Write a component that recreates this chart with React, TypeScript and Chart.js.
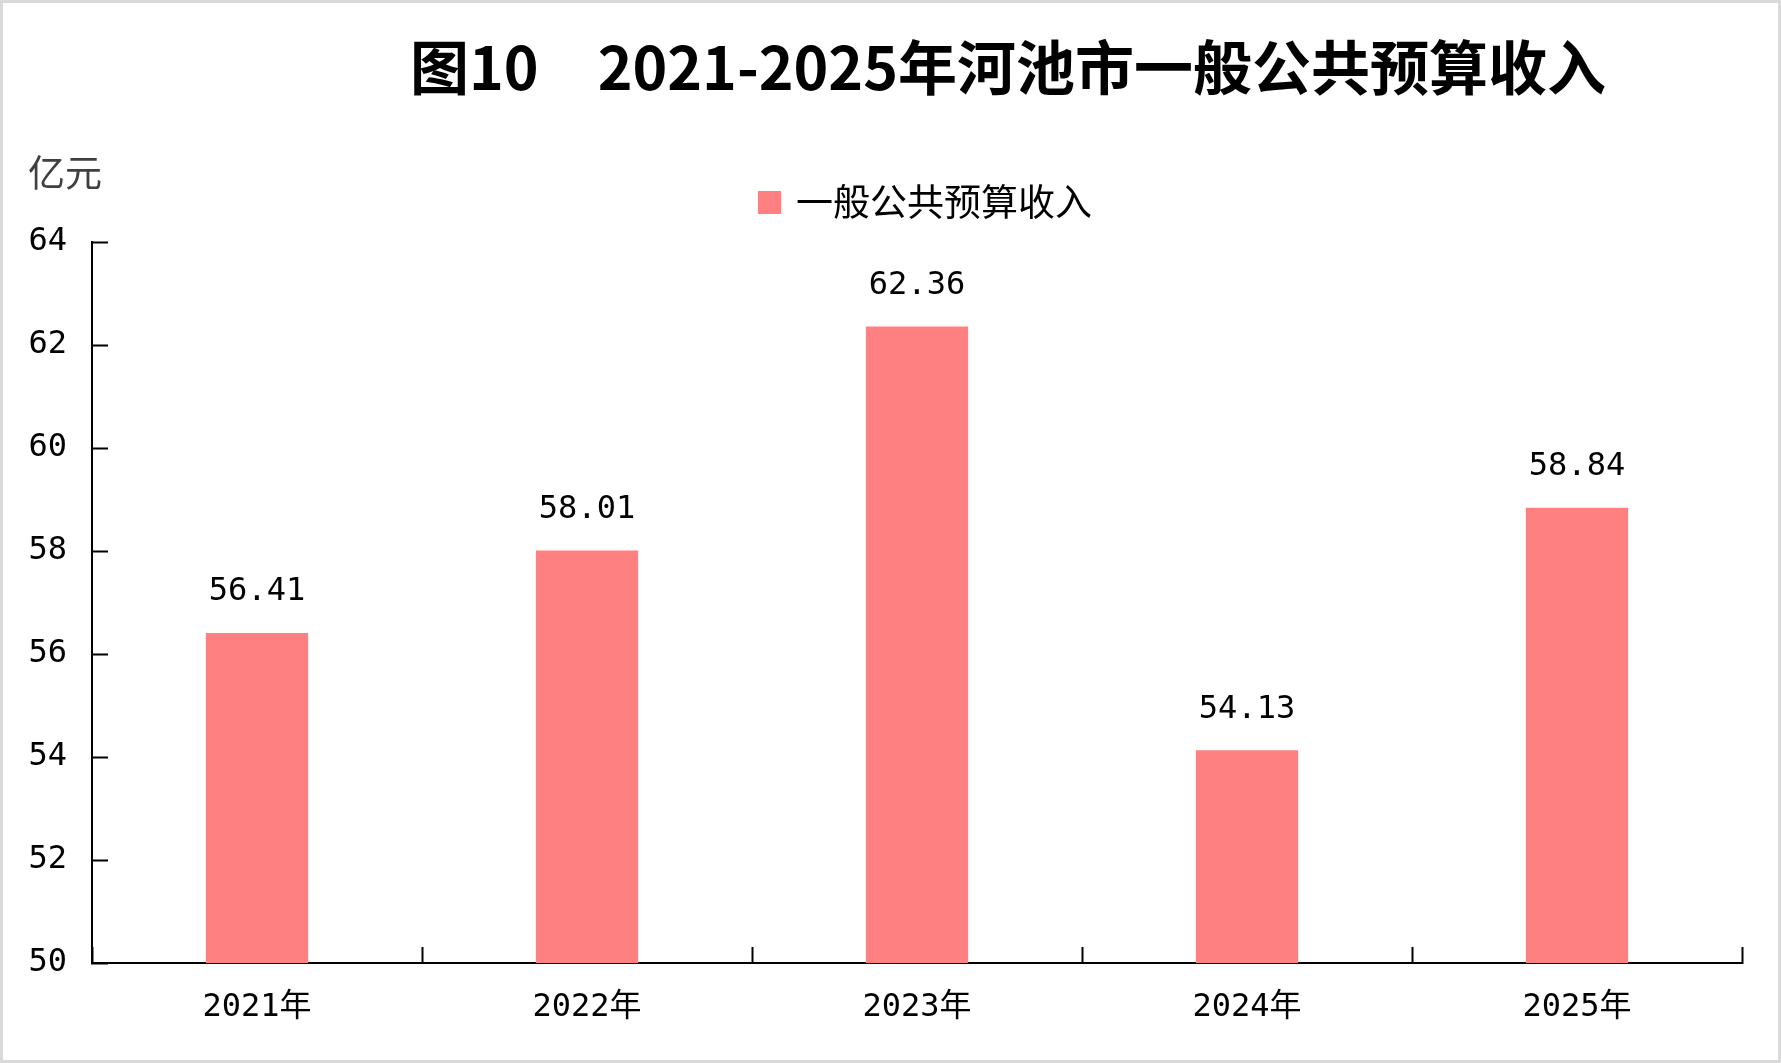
import { useEffect, useRef } from "react"
import { Chart, registerables } from "chart.js"

Chart.register(...registerables)

const years = ["2021年", "2022年", "2023年", "2024年", "2025年"]
const revenue = [56.41, 58.01, 62.36, 54.13, 58.84]
const yTicks = [50, 52, 54, 56, 58, 60, 62, 64]
const seriesName = "一般公共预算收入"
const chartTitle = "图10　2021-2025年河池市一般公共预算收入"
const unitLabel = "亿元"

const barColor = "#FF8080"
const numFont = "'DejaVu Sans Mono', 'Noto Sans CJK SC', sans-serif"
const cjkFont = "'Noto Sans CJK SC', sans-serif"

// title, unit, legend, value labels and the frame
const decorations = {
  id: "decorations",
  beforeDraw(chart: Chart) {
    const { ctx, width, height } = chart
    ctx.save()
    ctx.fillStyle = "#fff"
    ctx.fillRect(0, 0, width, height)
    ctx.strokeStyle = "#d9d9d9"
    ctx.lineWidth = 3
    ctx.strokeRect(1.5, 1.5, width - 3, height - 3)
    ctx.restore()
  },
  afterDatasetsDraw(chart: Chart) {
    const { ctx } = chart
    ctx.save()
    ctx.fillStyle = "#000"
    ctx.font = `32px ${numFont}`
    ctx.textAlign = "center"
    ctx.textBaseline = "middle"
    chart.getDatasetMeta(0).data.forEach((bar, i) => {
      ctx.fillText(revenue[i].toFixed(2), bar.x, bar.y - 41)
    })
    ctx.restore()
  },
  afterDraw(chart: Chart) {
    const { ctx } = chart
    ctx.save()
    ctx.fillStyle = "#000"
    ctx.textBaseline = "middle"
    ctx.textAlign = "center"
    ctx.font = `bold 59px ${cjkFont}`
    ctx.fillText(chartTitle, 1008, 68)

    ctx.textAlign = "left"
    ctx.fillStyle = "#404040"
    ctx.font = `37px ${cjkFont}`
    ctx.fillText(unitLabel, 28, 173)

    ctx.fillStyle = barColor
    ctx.fillRect(758, 191, 23, 23)
    ctx.fillStyle = "#000"
    ctx.fillText(seriesName, 796, 202)
    ctx.restore()
  },
}

export default function App() {
  const chartRef = useRef<HTMLCanvasElement>(null)
  const chartInstance = useRef<Chart | null>(null)

  useEffect(() => {
    document.body.style.margin = "0"
    if (!chartRef.current) return
    if (chartInstance.current) chartInstance.current.destroy()

    chartInstance.current = new Chart(chartRef.current, {
      type: "bar",
      data: {
        labels: years,
        datasets: [
          {
            label: seriesName,
            data: revenue,
            backgroundColor: barColor,
            barPercentage: 0.31,
            categoryPercentage: 1,
          },
        ],
      },
      options: {
        responsive: false,
        animation: false,
        layout: {
          padding: { top: 242, right: 39, bottom: 10, left: 0 },
        },
        plugins: {
          legend: { display: false },
          tooltip: { enabled: false },
          title: { display: false },
        },
        scales: {
          x: {
            afterFit: (scale) => {
              scale.height = 90
            },
            grid: {
              drawOnChartArea: false,
              offset: true,
              tickLength: -16,
              tickColor: "#000",
              tickWidth: 2,
            },
            border: { color: "#000", width: 2 },
            ticks: {
              color: "#000",
              padding: 41,
              font: { family: numFont, size: 32 },
            },
          },
          y: {
            min: yTicks[0],
            max: yTicks[yTicks.length - 1],
            afterFit: (scale) => {
              scale.width = 92
            },
            afterBuildTicks: (scale) => {
              scale.ticks = yTicks.map((v) => ({ value: v }))
            },
            grid: {
              drawOnChartArea: false,
              tickLength: -16,
              tickColor: "#000",
              tickWidth: 2,
            },
            border: { color: "#000", width: 2 },
            ticks: {
              color: "#000",
              padding: 41,
              font: { family: numFont, size: 32 },
            },
          },
        },
      },
      plugins: [decorations],
    })

    return () => {
      if (chartInstance.current) {
        chartInstance.current.destroy()
        chartInstance.current = null
      }
    }
  }, [])

  return <canvas ref={chartRef} width={1781} height={1063} />
}
